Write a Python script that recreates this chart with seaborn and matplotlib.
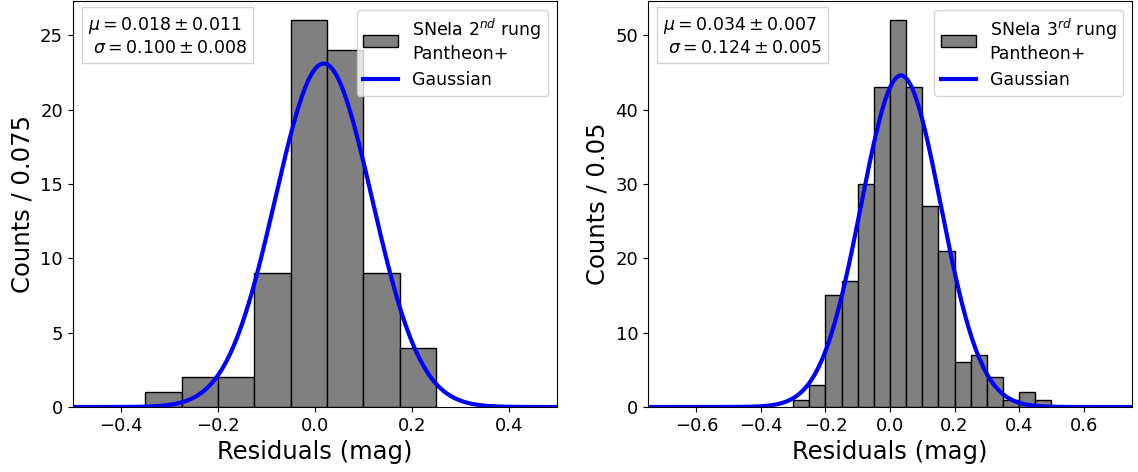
import numpy as np
import pandas as pd
import matplotlib
matplotlib.use("Agg")
import matplotlib.pyplot as plt
import seaborn as sns

# ---- data ----
edges_2nd = [-0.35, -0.275, -0.2, -0.125, -0.05, 0.025, 0.1, 0.175, 0.25]
counts_2nd = [1, 2, 2, 9, 26, 24, 9, 4]
mu_2nd, mu_err_2nd = 0.018, 0.011
sig_2nd, sig_err_2nd = 0.100, 0.008
amp_2nd = 23.1

edges_3rd = [-0.3, -0.25, -0.2, -0.15, -0.1, -0.05, 0.0, 0.05, 0.1, 0.15,
             0.2, 0.25, 0.3, 0.35, 0.4, 0.45, 0.5]
counts_3rd = [1, 3, 15, 17, 30, 43, 52, 43, 27, 21, 6, 7, 4, 1, 2, 1]
mu_3rd, mu_err_3rd = 0.034, 0.007
sig_3rd, sig_err_3rd = 0.124, 0.005
amp_3rd = 44.6

xticks_2nd = [-0.4, -0.2, 0.0, 0.2, 0.4]
xticks_3rd = [-0.6, -0.4, -0.2, 0.0, 0.2, 0.4, 0.6]

fig = plt.figure(figsize=(11.38, 4.72), dpi=100)
ax1 = fig.add_axes([0.064, 0.1377, 0.4255, 0.860])
ax2 = fig.add_axes([0.5694, 0.1377, 0.4253, 0.860])


def panel(ax, edges, counts, mu, mu_err, sig, sig_err, amp, label, binw_label,
          xlim, xticks):
    edges_arr = np.asarray(edges, dtype=float)
    counts_arr = np.asarray(counts, dtype=float)
    centers = 0.5 * (edges_arr[:-1] + edges_arr[1:])
    df = pd.DataFrame({"x": centers, "w": counts_arr})
    sns.histplot(data=df, x="x", weights="w", bins=list(edges), ax=ax,
                 color="gray", edgecolor="black", linewidth=1.0, alpha=1.0,
                 label=label)
    xs = np.linspace(xlim[0], xlim[1], 600)
    ys = amp * np.exp(-0.5 * ((xs - mu) / sig) ** 2)
    sns.lineplot(x=xs, y=ys, ax=ax, color="blue", linewidth=3, label="Gaussian")
    ax.set_xlim(*xlim)
    ax.set_xticks(xticks)
    ax.set_ylim(0, counts_arr.max() * 1.05)
    ax.set_xlabel("Residuals (mag)", fontsize=17.5)
    ax.set_ylabel(f"Counts / {binw_label}", fontsize=17.5)
    ax.tick_params(labelsize=13)
    handles, labels = ax.get_legend_handles_labels()
    order = [labels.index(label), labels.index("Gaussian")]
    ax.legend([handles[i] for i in order], [labels[i] for i in order],
              loc="upper right", fontsize=12.5, handlelength=2.0)
    txt = (rf"$\mu = {mu:.3f} \pm {mu_err:.3f}$" + "\n " +
           rf"$\sigma = {sig:.3f} \pm {sig_err:.3f}$")
    ax.text(0.031, 0.965, txt, transform=ax.transAxes, fontsize=12.5,
            ha="left", va="top", multialignment="left",
            bbox=dict(boxstyle="square,pad=0.35", facecolor="white",
                      edgecolor="#d0d0d0", alpha=0.9))


panel(ax1, edges_2nd, counts_2nd, mu_2nd, mu_err_2nd, sig_2nd, sig_err_2nd,
      amp_2nd, "SNeIa 2$^{nd}$ rung\nPantheon+", "0.075", (-0.5, 0.5), xticks_2nd)
panel(ax2, edges_3rd, counts_3rd, mu_3rd, mu_err_3rd, sig_3rd, sig_err_3rd,
      amp_3rd, "SNeIa 3$^{rd}$ rung\nPantheon+", "0.05", (-0.75, 0.75), xticks_3rd)

fig.savefig("out.png", dpi=100)
